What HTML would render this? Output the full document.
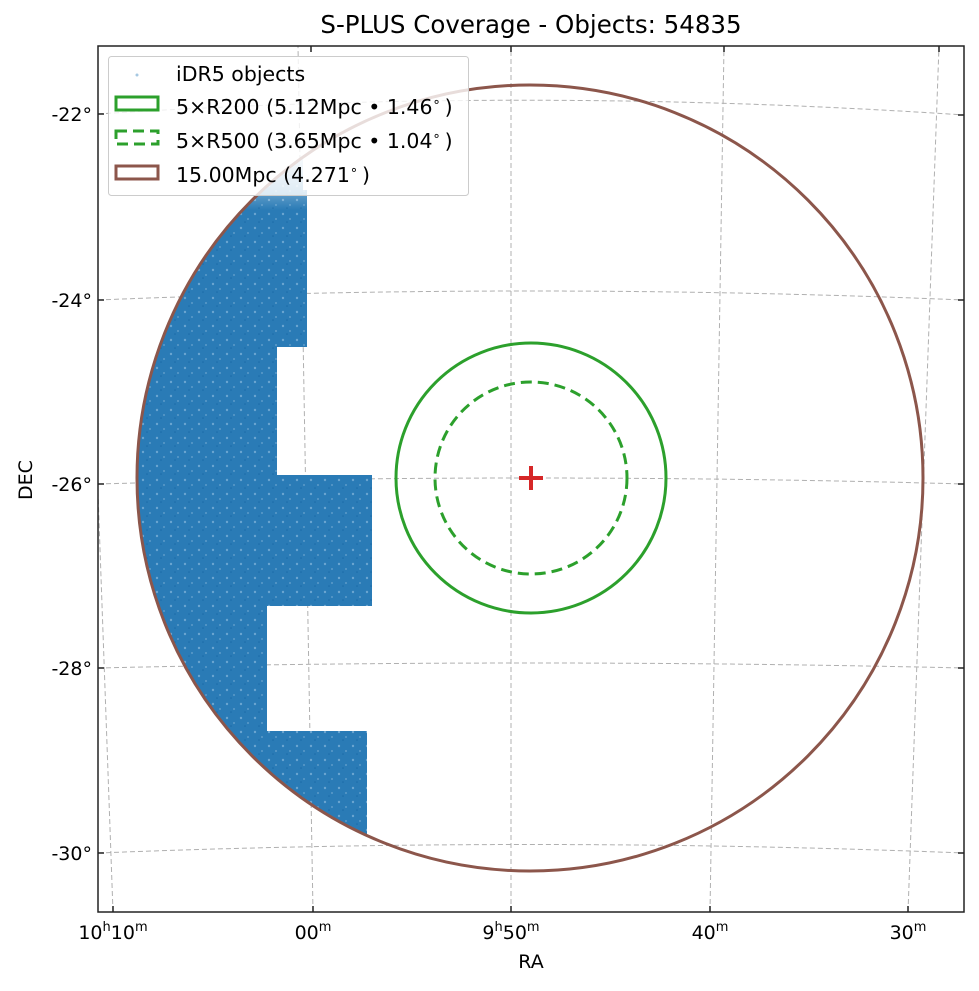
<!DOCTYPE html>
<html><head><meta charset="utf-8"><style>
body{margin:0;background:#fff}
svg text{font-family:"DejaVu Sans","Liberation Sans",sans-serif;fill:#000}
</style></head><body>
<svg width="979" height="986" viewBox="0 0 979 986" xmlns="http://www.w3.org/2000/svg">
<defs>
<clipPath id="ax"><rect x="98" y="46" width="866" height="866"/></clipPath>
<clipPath id="circ"><circle cx="530" cy="478" r="392"/></clipPath>
<pattern id="tex" width="14" height="14" patternUnits="userSpaceOnUse">
<rect width="14" height="14" fill="#2a7bb6"/>
<circle cx="3" cy="4" r="1.2" fill="#6aa5d0"/><circle cx="10" cy="9" r="1" fill="#5b9bc9"/><circle cx="7" cy="12" r="0.8" fill="#1a6aa8"/>
</pattern>
<linearGradient id="fade" x1="0" y1="0" x2="0" y2="1">
<stop offset="0" stop-color="#fff" stop-opacity="0.9"/><stop offset="1" stop-color="#fff" stop-opacity="0"/>
</linearGradient>
</defs>
<rect width="979" height="986" fill="#fff"/>
<g clip-path="url(#ax)" fill="none" stroke="#b0b0b0" stroke-width="1" stroke-dasharray="5,3">
<path d="M113 912 L82 46"/>
<path d="M313 912 L298 46"/>
<path d="M511 912 L511 46"/>
<path d="M710 912 L724 46"/>
<path d="M908 912 L939 46"/>
<path d="M98 114 Q530 86 964 115"/>
<path d="M98 300 Q530 282 964 300"/>
<path d="M98 484 Q530 472 964 484"/>
<path d="M98 668 Q530 658 964 668"/>
<path d="M98 853 Q530 836 964 853"/>
</g>
<g clip-path="url(#circ)">
<path d="M120 150 L303 150 L303 190 L307 190 L307 347 L277 347 L277 475 L372 475 L372 606 L267 606 L267 731 L367 731 L367 900 L120 900 Z" fill="url(#tex)"/>
<rect x="200" y="150" width="110" height="60" fill="url(#fade)"/>
</g>
<circle cx="530" cy="478" r="393" fill="none" stroke="#8c564b" stroke-width="3"/>
<circle cx="531" cy="478" r="135" fill="none" stroke="#2ca02c" stroke-width="3"/>
<circle cx="531" cy="478" r="96" fill="none" stroke="#2ca02c" stroke-width="3" stroke-dasharray="11,6"/>
<path d="M519 478 H543 M531 466 V490" stroke="#d62728" stroke-width="4"/>
<rect x="98" y="46" width="866" height="866" fill="none" stroke="#222" stroke-width="1.5"/>
<g stroke="#222" stroke-width="1.5">
<path d="M113 912v-6M313 912v-6M511 912v-6M710 912v-6M908 912v-6"/>
<path d="M311 46v6M511 46v6M724 46v6M939 46v6"/>
<path d="M98 114h6M98 300h6M98 484h6M98 668h6M98 853h6"/>
<path d="M964 115h-6M964 300h-6M964 484h-6M964 668h-6M964 853h-6"/>
</g>
<g font-size="19" text-anchor="end">
<text x="92" y="121">-22°</text><text x="92" y="307">-24°</text><text x="92" y="491">-26°</text><text x="92" y="675">-28°</text><text x="92" y="860">-30°</text>
</g>
<g font-size="19" text-anchor="middle">
<text x="113" y="939">10<tspan font-size="13" dy="-8">h</tspan><tspan dy="8">10</tspan><tspan font-size="13" dy="-8">m</tspan></text>
<text x="313" y="939">00<tspan font-size="13" dy="-8">m</tspan></text>
<text x="511" y="939">9<tspan font-size="13" dy="-8">h</tspan><tspan dy="8">50</tspan><tspan font-size="13" dy="-8">m</tspan></text>
<text x="710" y="939">40<tspan font-size="13" dy="-8">m</tspan></text>
<text x="908" y="939">30<tspan font-size="13" dy="-8">m</tspan></text>
<text x="531" y="968">RA</text>
<text x="531" y="33" font-size="24.5">S-PLUS Coverage - Objects: 54835</text>
<text transform="translate(32 480) rotate(-90)">DEC</text>
</g>
<rect x="108.5" y="56.5" width="360" height="139" rx="3" fill="#fff" fill-opacity="0.8" stroke="#ccc"/>
<circle cx="137" cy="75" r="1.5" fill="#a6c8e2"/>
<rect x="116" y="97" width="42" height="13" fill="none" stroke="#2ca02c" stroke-width="3"/>
<rect x="116" y="131" width="42" height="13" fill="none" stroke="#2ca02c" stroke-width="3" stroke-dasharray="11,6"/>
<rect x="116" y="166" width="42" height="13" fill="none" stroke="#8c564b" stroke-width="3"/>
<g font-size="20.5">
<text x="176" y="81">iDR5 objects</text>
<text x="176" y="114">5×R200 (5.12Mpc • 1.46<tspan font-size="13" dy="-8">∘</tspan><tspan dx="4" dy="8">)</tspan></text>
<text x="176" y="148">5×R500 (3.65Mpc • 1.04<tspan font-size="13" dy="-8">∘</tspan><tspan dx="4" dy="8">)</tspan></text>
<text x="176" y="182">15.00Mpc (4.271<tspan font-size="13" dy="-8">∘</tspan><tspan dx="4" dy="8">)</tspan></text>
</g>
</svg>
</body></html>
